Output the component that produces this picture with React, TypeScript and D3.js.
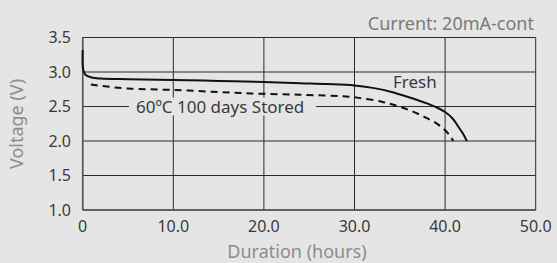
import React from 'react';
import * as d3 from 'd3';

// discharge curves (hours, volts)
const freshHours = [0, 0.05, 0.3, 1, 2, 5, 10, 15, 20, 24, 27, 30, 32, 34, 36, 38, 39, 40, 40.8, 41.5, 42, 42.4];
const freshVolts = [3.32, 3.04, 2.96, 2.92, 2.905, 2.895, 2.885, 2.87, 2.855, 2.838, 2.826, 2.806, 2.77, 2.715, 2.635, 2.545, 2.49, 2.42, 2.33, 2.2, 2.1, 2.0];

const storedHours = [0.9, 2, 5, 10, 15, 18.5, 24, 29.5, 31, 33, 34, 35, 36, 37, 38, 39, 39.8, 40.4, 40.9];
const storedVolts = [2.82, 2.8, 2.76, 2.74, 2.71, 2.69, 2.67, 2.64, 2.615, 2.57, 2.535, 2.495, 2.45, 2.395, 2.33, 2.26, 2.18, 2.1, 2.0];

const xTicks = [0, 10, 20, 30, 40, 50];
const yTicks = [1.0, 1.5, 2.0, 2.5, 3.0, 3.5];

const W = 557;
const H = 263;
const left = 82.7;
const right = 535.7;
const top = 37.5;
const bottom = 210;
const font = '"Noto Sans", sans-serif';

export default function App() {
  const x = d3.scaleLinear().domain([0, 50]).range([left, right]);
  const y = d3.scaleLinear().domain([1.0, 3.5]).range([bottom, top]);

  const line = d3
    .line<[number, number]>()
    .x((d) => x(d[0]))
    .y((d) => y(d[1]))
    .curve(d3.curveCatmullRom.alpha(0.5));

  const fresh = freshHours.map((h, i) => [h, freshVolts[i]] as [number, number]);
  const stored = storedHours.map((h, i) => [h, storedVolts[i]] as [number, number]);

  return (
    <svg
      width={W}
      height={H}
      style={{ position: 'absolute', left: 0, top: 0, background: '#e5e5e5' }}
      fontFamily={font}
    >
      {/* grid */}
      {yTicks.map((t) => (
        <line key={'gy' + t} x1={left} x2={right} y1={y(t)} y2={y(t)} stroke="#2a2a2a" strokeWidth={1} />
      ))}
      {xTicks.map((t) => (
        <line key={'gx' + t} x1={x(t)} x2={x(t)} y1={top} y2={bottom} stroke="#2a2a2a" strokeWidth={1} />
      ))}
      {/* left + bottom axis a bit heavier */}
      <line x1={left} x2={left} y1={top} y2={bottom} stroke="#555" strokeWidth={1.6} />
      <line x1={left} x2={right} y1={bottom} y2={bottom} stroke="#555" strokeWidth={1.6} />

      {/* tick labels */}
      {yTicks.map((t) => (
        <text key={'ty' + t} x={71} y={y(t) + 5.5} textAnchor="end" fontSize={16} fill="#3a3a3a">
          {t.toFixed(1)}
        </text>
      ))}
      {xTicks.map((t) => (
        <text key={'tx' + t} x={x(t)} y={232} textAnchor="middle" fontSize={16} fill="#3a3a3a">
          {t === 0 ? '0' : t.toFixed(1)}
        </text>
      ))}

      {/* curves */}
      <path d={line(stored) ?? ''} fill="none" stroke="#111" strokeWidth={2} strokeDasharray="7,5" />
      <path d={line(fresh) ?? ''} fill="none" stroke="#111" strokeWidth={2} />

      {/* annotations */}
      <rect x={129} y={y(2.5) - 9} width={187} height={18} fill="#e5e5e5" />
      <text x={136} y={113} fontSize={17} fill="#3a3a3a">
        60ºC 100 days Stored
      </text>
      <text x={393} y={88} fontSize={17} fill="#3a3a3a">
        Fresh
      </text>

      <text x={534} y={29.5} textAnchor="end" fontSize={18} fill="#7a7a7a">
        Current: 20mA-cont
      </text>

      {/* axis titles */}
      <text x={297} y={258} textAnchor="middle" fontSize={18} fill="#8c8c8c">
        Duration (hours)
      </text>
      <text
        transform={`translate(23,124) rotate(-90)`}
        textAnchor="middle"
        fontSize={18}
        fill="#8c8c8c"
      >
        Voltage (V)
      </text>
    </svg>
  );
}
